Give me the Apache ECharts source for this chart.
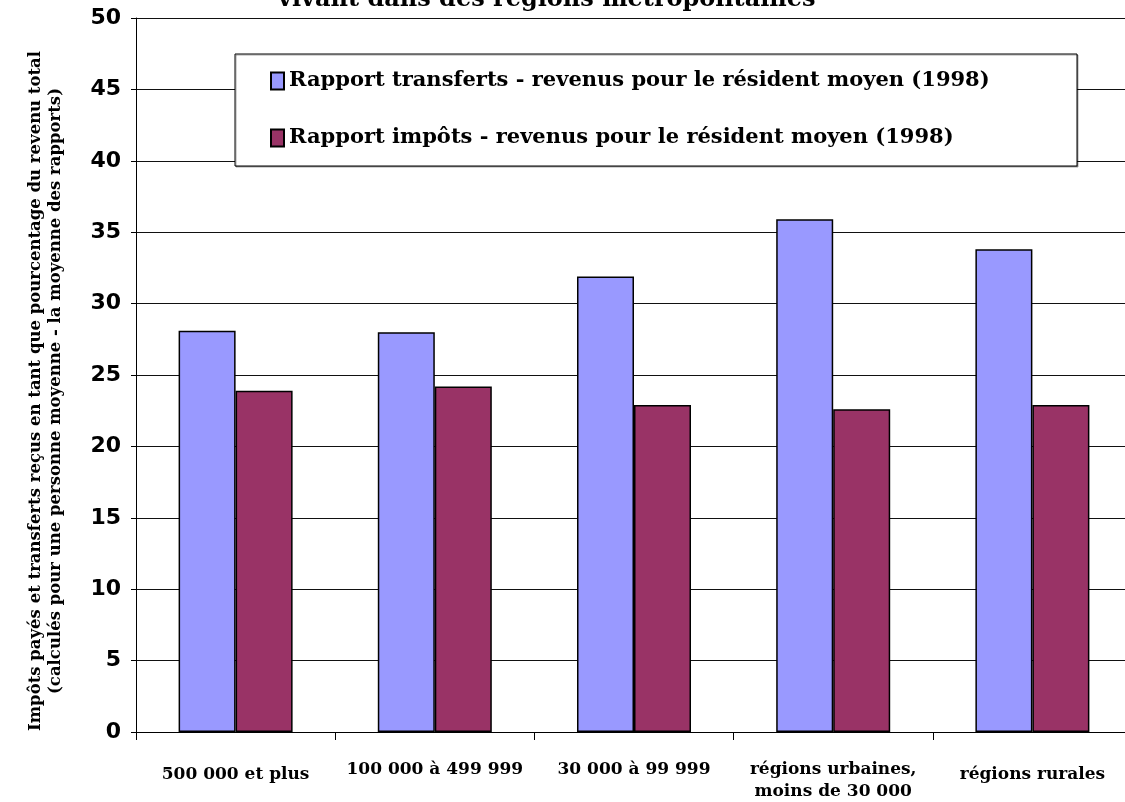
<!DOCTYPE html>
<html>
<head>
<meta charset="utf-8">
<script src="https://cdn.jsdelivr.net/npm/echarts@6/dist/echarts.min.js"></script>
<style>
  html, body { margin: 0; padding: 0; background: #fff; }
  #chart { width: 1125px; height: 802px; }
</style>
</head>
<body>
<div id="chart"></div>
<script>
// Population size classes of the regions
const categories = ['500 000 et plus', '100 000 à 499 999', '30 000 à 99 999', 'régions urbaines,\nmoins de 30 000', 'régions rurales'];
// Single-line labels that sit a little lower under their group
const loweredLabels = [0, 4];

const seriesNames = [
  'Rapport transferts - revenus pour le résident moyen (1998)',
  'Rapport impôts - revenus pour le résident moyen (1998)'
];
// Ratios in percent of total income
const transferts = [28.1, 28.0, 31.9, 35.9, 33.8];
const impots = [23.9, 24.2, 22.9, 22.6, 22.9];

const yMin = 0, yMax = 50, yStep = 5;

const titleText = 'vivant dans des régions métropolitaines';
const yAxisTitle = 'Impôts payés et transferts reçus en tant que pourcentage du revenu total\n(calculés pour une personne moyenne - la moyenne des rapports)';

const serif = '"DejaVu Serif", "Liberation Serif", serif';
const sans = '"DejaVu Sans", "Liberation Sans", sans-serif';

const chart = echarts.init(document.getElementById('chart'), null, { renderer: 'canvas' });

chart.setOption({
  backgroundColor: '#ffffff',
  animation: false,
  title: {
    text: titleText,
    left: 273,
    top: -19,
    textStyle: { fontFamily: serif, fontWeight: 'bold', fontSize: 24, lineHeight: 28, color: '#000' }
  },
  graphic: [{
    type: 'rect',
    z: 3,
    shape: { x: 235, y: 54, width: 842, height: 112 },
    style: { fill: '#fff', stroke: '#000', lineWidth: 1, shadowColor: 'rgba(0,0,0,0.35)', shadowOffsetX: 1, shadowOffsetY: 1 }
  }],
  legend: {
    orient: 'vertical',
    left: 270,
    top: 69,
    padding: 0,
    itemGap: 33,
    itemWidth: 13,
    itemHeight: 17,
    icon: 'rect',
    z: 4,
    textStyle: { fontFamily: serif, fontWeight: 'bold', fontSize: 21, lineHeight: 24, color: '#000' },
    data: seriesNames
  },
  // the plot runs a little past the right edge of the page
  grid: { left: 136, right: -7, top: 18, bottom: 70, containLabel: false, outerBoundsMode: 'none' },
  xAxis: {
    type: 'category',
    data: categories.map((c, i) => ({
      value: c,
      textStyle: loweredLabels.includes(i) ? { padding: [5, 0, 0, 0] } : {}
    })),
    axisLine: { lineStyle: { color: '#000', width: 1 } },
    axisTick: { show: true, alignWithLabel: false, length: 8, lineStyle: { color: '#000' } },
    axisLabel: {
      interval: 0,
      margin: 27,
      fontFamily: serif,
      fontWeight: 'bold',
      fontSize: 17,
      lineHeight: 22,
      color: '#000'
    },
    splitLine: { show: false }
  },
  yAxis: {
    type: 'value',
    min: yMin,
    max: yMax,
    interval: yStep,
    name: yAxisTitle,
    nameLocation: 'middle',
    nameGap: 70,
    nameTextStyle: {
      fontFamily: serif, fontWeight: 'bold', fontSize: 16.5, lineHeight: 20, color: '#000',
      padding: [0, 32, 0, 0]
    },
    axisLine: { show: true, lineStyle: { color: '#000', width: 1 } },
    axisTick: { show: true, length: 5, lineStyle: { color: '#000' } },
    axisLabel: { margin: 15, fontFamily: sans, fontWeight: 'bold', fontSize: 22, color: '#000' },
    splitLine: { show: true, lineStyle: { color: '#111', width: 1 } }
  },
  series: [
    {
      name: seriesNames[0],
      type: 'bar',
      data: transferts,
      barWidth: 57,
      barGap: '0%',
      itemStyle: { color: '#9999ff', borderColor: '#000', borderWidth: 1.5 }
    },
    {
      name: seriesNames[1],
      type: 'bar',
      data: impots,
      barWidth: 57,
      barGap: '0%',
      itemStyle: { color: '#993366', borderColor: '#000', borderWidth: 1.5 }
    }
  ]
});
</script>
</body>
</html>
